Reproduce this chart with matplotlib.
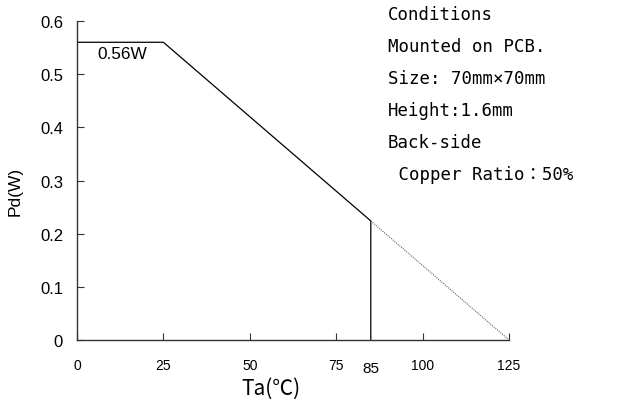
import matplotlib
matplotlib.use("Agg")
import matplotlib.pyplot as plt

# derating curve, Pd vs Ta
ta_solid = [0, 25, 85, 85]
pd_solid = [0.56, 0.56, 0.224, 0.0]
ta_dot = [85, 125]
pd_dot = [0.224, 0.0]

xticks = [0, 25, 50, 75, 100, 125]
xtick_labels = ["0", "25", "50", "75", "100", "125"]
yticks = [0, 0.1, 0.2, 0.3, 0.4, 0.5, 0.6]
ytick_labels = ["0", "0.1", "0.2", "0.3", "0.4", "0.5", "0.6"]

conditions = [
    "Conditions",
    "Mounted on PCB.",
    "Size: 70mm×70mm",
    "Height:1.6mm",
    "Back-side",
    " Copper Ratio：50%",
]

fig = plt.figure(figsize=(6.28, 4.10), dpi=100)
ax = fig.add_axes([0.1226, 0.1683, 0.688, 0.778])

ax.plot(ta_solid, pd_solid, color="black", linewidth=0.9)
ax.plot(ta_dot, pd_dot, color="#666666", linewidth=0.8, linestyle=(0, (1, 1)))

ax.set_xlim(0, 125)
ax.set_ylim(0, 0.6)
ax.set_xticks(xticks)
ax.set_xticklabels(xtick_labels, fontsize=10, family="Liberation Sans")
ax.set_yticks(yticks)
ax.set_yticklabels(ytick_labels, fontsize=12, family="Liberation Sans")
ax.tick_params(axis="x", direction="in", length=5, pad=13, colors="#333333",
               labelcolor="black")
ax.tick_params(axis="y", direction="in", length=5, pad=10, colors="#333333",
               labelcolor="black")

for s in ("top", "right"):
    ax.spines[s].set_visible(False)
for s in ("left", "bottom"):
    ax.spines[s].set_color("#333333")
    ax.spines[s].set_linewidth(1.0)

# 85 label sits a bit lower than the regular tick labels
ax.text(85, -0.04, "85", ha="center", va="top", fontsize=11,
        family="Liberation Sans", clip_on=False)

ax.text(5.8, 0.538, "0.56W", ha="left", va="center", fontsize=12.4,
        family="Liberation Sans")

ax.set_xlabel("Ta(℃)", fontsize=15, family=["Noto Sans CJK JP", "DejaVu Sans"])
ax.xaxis.set_label_coords(0.45, -0.115)
ax.set_ylabel("Pd(W)", fontsize=12.5, family="Liberation Sans")
ax.yaxis.set_label_coords(-0.125, 0.47)

y0 = 0.963
for i, line in enumerate(conditions):
    fig.text(388 / 628, y0 - i * 0.078, line, ha="left", va="center",
             fontsize=12.5, family=["DejaVu Sans Mono", "Noto Sans CJK JP"])

fig.savefig("out.png", dpi=100)
